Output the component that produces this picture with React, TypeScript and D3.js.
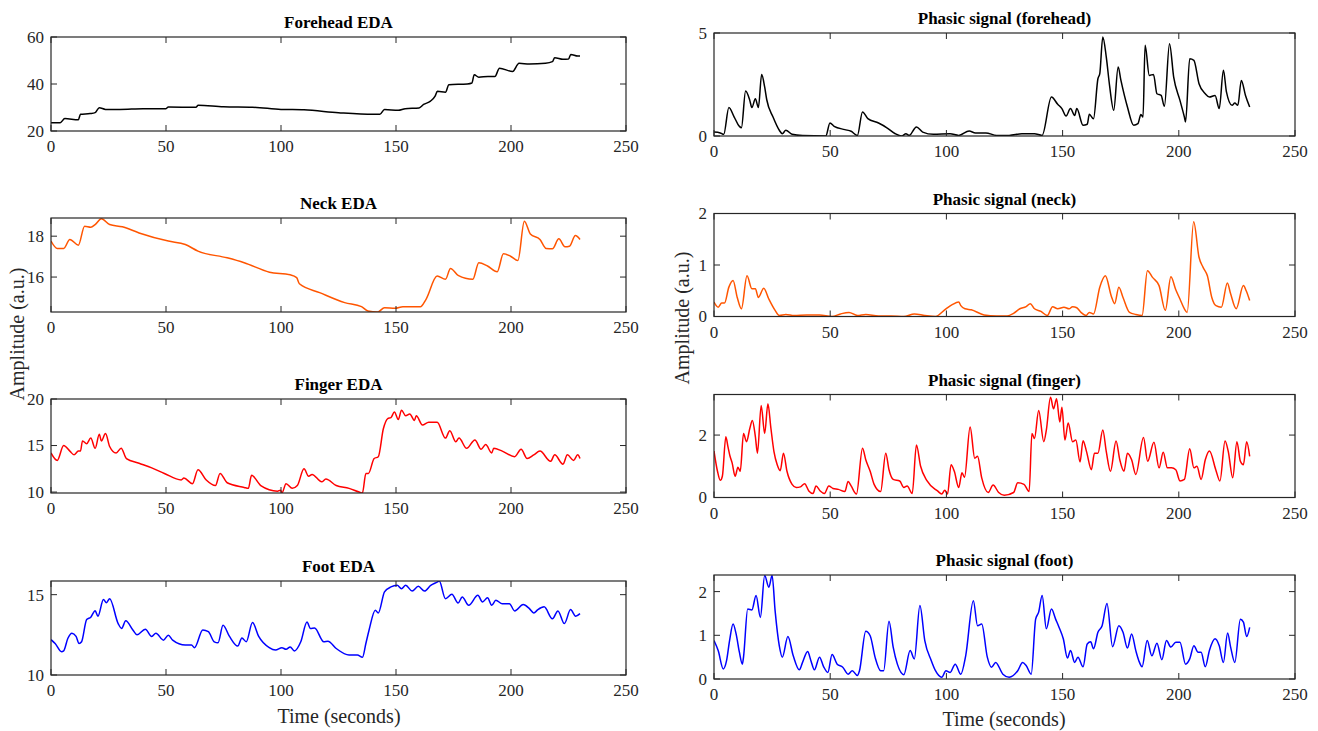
import * as d3 from "d3";

type Pt = [number, number];

const xTicks = [0, 50, 100, 150, 200, 250];

// tonic EDA, left column (time s, value)
const foreheadEda: Pt[] = [
  [0, 23.5], [4, 23.5], [6, 25.3], [11.9, 24.8], [12.8, 27.1], [17, 27.4], [19.2, 27.8], [21, 29.9],
  [23.7, 29.2], [30, 29.2], [40, 29.5], [50, 29.5], [51, 30.2], [63, 30.1], [64, 31], [75, 30.3],
  [87.6, 30.1], [100, 29.2], [110, 29], [125, 27.8], [140, 27.1], [143, 27.1], [145, 29.1], [151, 28.8],
  [154, 29.5], [160, 29.8], [162, 31.3], [165, 32.7], [167, 34.8], [168, 36.9], [171.5, 36.5], [173, 39.7],
  [181, 40], [183, 40.4], [184, 43.9], [186, 42.9], [190, 43.2], [193, 43.2], [195, 46.7], [200.7, 45.3],
  [203.5, 48.8], [208, 48.5], [215, 48.8], [218, 49.5], [219, 51.2], [222.6, 50.5], [225, 50.6],
  [226, 52.6], [229, 51.9], [230, 51.9],
];

const neckEda: Pt[] = [
  [0, 17.76], [2.7, 17.4], [5.5, 17.4], [8.2, 17.84], [11.9, 17.56], [14.6, 18.49], [17.3, 18.44],
  [19.2, 18.57], [21.9, 18.85], [25.5, 18.57], [31, 18.46], [38.3, 18.16], [51, 17.76], [58.4, 17.59],
  [63.9, 17.27], [76.6, 16.94], [84, 16.7], [95, 16.24], [104, 16.11], [106.8, 15.97], [108, 15.67],
  [116.8, 15.24], [127.7, 14.75], [135, 14.55], [137.8, 14.34], [142, 14.29], [145, 14.5], [149.6, 14.47],
  [153, 14.55], [160.6, 14.55], [163, 14.9], [167.9, 16.05], [171.5, 15.89], [173.7, 16.42], [177, 16.08],
  [183.4, 15.89], [186, 16.7], [189.8, 16.54], [194, 16.26], [196.7, 17.14], [199.8, 17.02], [203, 16.81],
  [205.8, 18.73], [208.4, 18.11], [212.6, 17.84], [215.3, 17.4], [218, 17.38], [220.8, 17.87],
  [223.5, 17.48], [225.4, 17.51], [228, 18.03], [230, 17.84],
];

const fingerEda: Pt[] = [
  [0, 14.2], [2.7, 13.4], [5.5, 15], [8.2, 14.4], [10, 14], [11.9, 14.4], [12.8, 14.4], [13.7, 15.5],
  [15.5, 15.2], [17.3, 15.8], [19.2, 14.7], [21, 16.2], [21.9, 15.5], [23.7, 16.3], [25.5, 14.9],
  [28.3, 14.2], [30.5, 14.7], [32.8, 13.6], [38.3, 13.1], [43.8, 12.6], [49.3, 12], [56.6, 11.3],
  [57.8, 11.5], [61.5, 10.9], [63.9, 12.4], [67.5, 11.3], [71.5, 10.7], [73.5, 12], [76.6, 11],
  [84, 10.5], [85.8, 10.4], [87.2, 11.8], [91.2, 10.7], [98.5, 10.1], [99.8, 10.2], [100.4, 9.9],
  [102.2, 10.9], [104.9, 10.4], [107.1, 10.7], [110, 12.5], [112, 11.7], [113.5, 11.9], [117.7, 11.1],
  [119.5, 11.4], [124, 10.7], [129.6, 10.4], [134, 10], [135.4, 9.9], [136.9, 12], [138, 12],
  [140.5, 13.6], [142.3, 13.8], [144.5, 16.8], [146.4, 17.9], [147.8, 18], [149.3, 18.6], [151, 17.8],
  [152.4, 18.8], [154.2, 18.2], [156, 18.4], [158, 17.7], [158.8, 18.2], [161.5, 17.2], [164.2, 17.5],
  [167.9, 17.5], [171.5, 15.8], [173.4, 16.6], [176, 15.4], [177.4, 15.8], [180.7, 14.7], [184.3, 15.6],
  [187, 14.6], [189, 15.1], [191.6, 14.2], [192.5, 14.7], [196.2, 14.4], [201.6, 13.8], [204.4, 14.6],
  [207, 13.6], [209.9, 14], [212.6, 14.4], [217.2, 13.3], [219, 14], [222.6, 13], [224.5, 14],
  [227.2, 13.4], [229, 14], [230, 13.6],
];

const footEda: Pt[] = [
  [0, 12.2], [1.8, 11.96], [4.6, 11.45], [5.5, 11.5], [7.3, 12.27], [9.1, 12.6], [10.9, 12.4],
  [12.2, 11.96], [13.3, 12.07], [15.5, 13.45], [17.3, 13.6], [19.2, 14], [20.4, 13.66], [22.8, 14.7],
  [24.1, 14.5], [25.5, 14.75], [29.2, 13.2], [30.7, 12.9], [32.5, 13.37], [35.6, 12.8], [37.4, 12.5],
  [41, 12.85], [43.8, 12.4], [45.6, 12.6], [48.9, 12.17], [51, 12.48], [52.9, 12.17], [58.4, 11.86],
  [61.1, 11.86], [62.4, 11.7], [66, 12.8], [68.4, 12.7], [71, 12.06], [72.6, 12], [74.8, 13.1],
  [77.6, 12.4], [81.2, 11.8], [83, 12.3], [84.9, 12.07], [87.6, 13.26], [90.3, 12.4], [94.9, 11.7],
  [97.6, 11.55], [100.4, 11.7], [102.2, 11.6], [104, 11.75], [105.8, 11.5], [108.6, 12.07],
  [111.3, 13.3], [112.8, 12.9], [114.6, 12.93], [118.6, 12.07], [120.4, 12.1], [124, 11.65],
  [129.6, 11.24], [133.2, 11.24], [135.4, 11.1], [136.9, 11.96], [138.3, 12.8], [141, 14.03],
  [142.3, 13.86], [145, 15.17], [147.8, 15.48], [150.5, 15.58], [152.4, 15.37], [154.2, 15.58],
  [157, 15.23], [159.7, 15.52], [162.4, 15.23], [165.1, 15.58], [167.9, 15.78], [168.8, 15.85],
  [171.5, 14.75], [174.3, 15.02], [177, 14.48], [178.8, 14.86], [181.6, 14.34], [185.6, 14.96],
  [187.6, 14.55], [189.8, 14.8], [191.6, 14.34], [193.4, 14.65], [196.2, 14.44], [199.3, 14.44],
  [201.6, 13.99], [205.3, 14.38], [208, 14.13], [209.9, 13.86], [211.7, 14.07], [214.4, 14.24],
  [218, 13.5], [220.4, 13.99], [223.2, 13.2], [225.9, 14.07], [228.1, 13.66], [230, 13.82],
];

// phasic components, right column
const foreheadPhasic: Pt[] = [
  [0, 0.19], [2.7, 0.15], [4.2, 0.08], [6.4, 1.38], [8.7, 0.92], [10.9, 0.47], [11.8, 0.4], [13.6, 2.18],
  [15.4, 1.73], [16.3, 1.38], [17.8, 1.81], [19.1, 1.38], [20.5, 2.99], [21.8, 2.38], [22.7, 1.76],
  [25.4, 0.92], [28.1, 0.28], [29.4, 0.11], [30.9, 0.28], [33.6, 0.08], [38.1, 0.02], [48.1, 0],
  [49.9, 0.63], [51.7, 0.47], [56.3, 0.31], [59, 0.23], [61.7, 0.03], [63.9, 1.17], [66.2, 0.84],
  [70.8, 0.63], [74.4, 0.4], [78, 0.11], [80.8, 0], [82.6, 0.11], [84, 0.03], [87.1, 0.44], [89.8, 0.19],
  [94.4, 0.08], [101.6, 0.11], [105.3, 0.03], [109.8, 0.24], [112.5, 0.15], [117, 0.15], [121.6, 0.03],
  [127, 0.03], [132.5, 0.11], [137.9, 0.11], [141.2, 0.03], [145.2, 1.89], [147.9, 1.54], [149.7, 1.33],
  [151.5, 0.97], [153.4, 1.33], [155.2, 1.0], [156.1, 1.33], [158.8, 0.52], [160.6, 0.57], [161.5, 1.05],
  [163.3, 0.84], [165.2, 2.78], [166, 3.03], [167.3, 4.81], [168.8, 3.83], [170.2, 2.46], [172, 1.25],
  [173.9, 3.35], [175.1, 2.7], [177.9, 1.41], [180.6, 0.52], [182.4, 0.6], [183.7, 1.04], [184.6, 0.92],
  [185.5, 4.4], [187.3, 2.94], [189.1, 2.99], [190.6, 2.05], [192.4, 1.97], [193.8, 1.44], [196, 4.48],
  [197.8, 2.86], [200.5, 1.73], [202.4, 0.92], [202.9, 0.68], [204.7, 3.75], [206.5, 3.67], [208.7, 2.54],
  [211.4, 2.05], [213.2, 1.89], [215.6, 1.97], [217.4, 1.33], [219.2, 3.19], [220.5, 2.14], [222.9, 1.49],
  [224.1, 1.6], [225.4, 1.49], [226.9, 2.7], [228.7, 1.97], [230.5, 1.41],
];

const neckPhasic: Pt[] = [
  [0, 0.28], [1.8, 0.18], [3.3, 0.26], [4.5, 0.26], [6.4, 0.57], [8.2, 0.7], [10, 0.37], [11.8, 0.15],
  [14.2, 0.79], [16.3, 0.54], [17.8, 0.54], [19.1, 0.37], [21.4, 0.55], [23.6, 0.34], [26.3, 0.12],
  [28.1, 0.02], [30.9, 0.04], [34.5, 0.02], [39.9, 0.03], [45.4, 0.03], [50.8, 0], [54.4, 0.05],
  [58.1, 0.08], [61.7, 0.02], [65.3, 0.04], [70.8, 0.01], [76.2, 0.01], [81.7, 0], [86.2, 0.05],
  [90.7, 0.02], [95.3, 0], [99.8, 0.15], [102.5, 0.23], [105.3, 0.28], [106.2, 0.21], [108, 0.15],
  [110.7, 0.13], [116.2, 0.03], [121.6, 0.01], [126.1, 0.01], [128.9, 0.06], [131.6, 0.15], [134.3, 0.19],
  [136.1, 0.25], [137.9, 0.15], [140.7, 0.1], [143.4, 0.02], [145.7, 0.19], [147.9, 0.15], [150.6, 0.18],
  [152.8, 0.15], [154.3, 0.19], [156.1, 0.17], [157.9, 0.08], [160.1, 0.02], [161.5, 0.08], [163.3, 0.05],
  [166, 0.57], [168.4, 0.79], [171, 0.39], [172.4, 0.25], [174.2, 0.57], [176, 0.37], [178.8, 0.08],
  [181.5, 0.04], [184.2, 0.02], [186.5, 0.89], [188.7, 0.76], [191.5, 0.6], [194.2, 0.12], [196.6, 0.77],
  [198.7, 0.52], [200.5, 0.34], [202.4, 0.15], [203.6, 0.08], [206.4, 1.84], [208.7, 1.15], [210.5, 0.95],
  [212.3, 0.79], [214.2, 0.37], [216, 0.21], [218.3, 0.18], [220.9, 0.65], [222.3, 0.44], [224.7, 0.15],
  [227.8, 0.6], [229, 0.5], [230.5, 0.31],
];

const fingerPhasic: Pt[] = [
  [0, 1.49], [1.5, 0.84], [2.7, 0.55], [3.6, 0.68], [5.1, 1.95], [6, 1.63], [6.9, 1.32], [7.8, 1.11],
  [9.1, 0.68], [10.3, 0.97], [11.3, 0.84], [12.7, 2.05], [14, 1.79], [15.4, 2.21], [16.5, 2.47],
  [17.8, 1.95], [18.7, 1.42], [20.3, 2.95], [21.8, 2.05], [23.2, 3.0], [24.5, 2.21], [25.8, 1.47],
  [27.2, 1.05], [28.5, 0.86], [29.9, 1.42], [31.4, 0.84], [33.6, 0.42], [35.4, 0.32], [37.2, 0.34],
  [39, 0.44], [40.8, 0.21], [42.6, 0.13], [43.9, 0.37], [45.7, 0.21], [47.5, 0.13], [49.4, 0.37],
  [51.2, 0.29], [53.5, 0.26], [56.3, 0.19], [57.7, 0.51], [59, 0.37], [61.3, 0.11], [63.9, 1.58],
  [65.3, 1.21], [67.2, 0.84], [68.9, 0.42], [71.7, 0.19], [73.9, 1.42], [75.3, 0.89], [77.1, 0.58],
  [79.9, 0.53], [81.7, 0.32], [83.1, 0.37], [85.3, 0.13], [87.1, 1.68], [88.9, 1.0], [91.7, 0.53],
  [96.2, 0.21], [98, 0.11], [99.3, 0.23], [100.5, 0.11], [102, 1.05], [103.4, 0.84], [105.3, 0.32],
  [106.7, 0.79], [107.8, 0.65], [110.2, 2.26], [112.2, 1.26], [113.4, 1.32], [115.2, 0.63], [118, 0.16],
  [120.1, 0.4], [122.5, 0.16], [124.9, 0.07], [128.9, 0.16], [130.7, 0.47], [133.4, 0.42], [135.6, 0.19],
  [136.8, 2.05], [137.9, 1.89], [139.7, 2.79], [141.9, 1.79], [143, 2.16], [144.8, 3.21], [146.1, 2.84],
  [147.4, 3.16], [148.8, 2.42], [149.7, 2.89], [151, 1.84], [152.4, 2.39], [154.3, 1.79], [155.7, 1.84],
  [157.5, 1.14], [158.8, 1.82], [160.3, 1.47], [162.4, 0.89], [163.7, 1.42], [165.2, 1.42], [167.3, 2.16],
  [168.8, 1.47], [170.6, 0.84], [173, 1.81], [174.6, 1.21], [176.4, 0.84], [177.9, 1.42], [179.7, 1.21],
  [181.5, 0.74], [184.8, 1.92], [186.6, 1.16], [189.3, 1.77], [191.5, 0.95], [193.3, 1.45], [195.1, 0.95],
  [196.9, 0.95], [198.7, 0.89], [200.5, 0.53], [202.4, 0.58], [204.7, 1.56], [206.5, 0.95], [207.8, 1.0],
  [209.6, 0.58], [211.4, 1.21], [213.2, 1.49], [215.9, 0.89], [217.7, 0.53], [219.9, 1.81], [221.3, 1.47],
  [223.2, 0.63], [225, 1.79], [226.5, 1.16], [227.8, 1.05], [229.2, 1.79], [230.5, 1.32],
];

const footPhasic: Pt[] = [
  [0, 0.88], [1.8, 0.65], [4, 0.23], [5.4, 0.42], [6.7, 0.88], [8.2, 1.26], [9.6, 1.01], [10.9, 0.62],
  [12.2, 0.34], [12.7, 0.5], [14.5, 1.6], [16.3, 1.58], [18.1, 1.91], [19.96, 1.41], [21.8, 2.37],
  [23.6, 2.1], [25, 2.37], [26.3, 1.56], [28.1, 0.76], [29.4, 0.5], [31.8, 0.97], [34.1, 0.53],
  [36.7, 0.21], [38.1, 0.38], [40.3, 0.63], [41.7, 0.42], [43.2, 0.21], [45.4, 0.5], [47.2, 0.28],
  [49, 0.15], [50.8, 0.56], [53, 0.34], [55.4, 0.27], [57.7, 0.11], [59.5, 0.19], [61.7, 0.08],
  [62.6, 0.19], [65.3, 1.09], [67.2, 0.99], [69.3, 0.5], [71.7, 0.19], [73, 0.19], [75.3, 1.32],
  [77.1, 0.73], [78.9, 0.34], [81.7, 0.1], [84.4, 0.65], [86.2, 0.46], [88.6, 1.68], [90.7, 0.88],
  [93.5, 0.42], [95.3, 0.19], [98, 0.04], [99.8, 0.19], [101.6, 0.15], [103.8, 0.34], [106.2, 0.11],
  [108.3, 0.53], [111.6, 1.79], [113.4, 1.22], [115.2, 1.26], [117.6, 0.5], [119.4, 0.27], [121.2, 0.38],
  [124.3, 0.11], [127, 0.04], [130.7, 0.19], [132.8, 0.38], [134.3, 0.31], [136.5, 0.11], [138.4, 1.37],
  [139.7, 1.53], [141.2, 1.91], [143, 1.15], [145.2, 1.6], [147, 1.37], [148.5, 1.18], [150.3, 0.92],
  [152.1, 0.48], [153.4, 0.65], [155.2, 0.38], [156.6, 0.5], [158.8, 0.28], [160.6, 0.8], [162.1, 0.85],
  [163.3, 0.69], [165.2, 1.07], [167, 1.22], [169.1, 1.73], [171.5, 0.74], [174.2, 1.22], [176, 1.07],
  [177.9, 0.71], [179.7, 1.03], [181.5, 0.65], [182.8, 0.42], [184.2, 0.28], [186.4, 0.88], [188.4, 0.53],
  [190.6, 0.82], [192.7, 0.44], [194.7, 0.88], [196.6, 0.73], [198.7, 0.84], [200.5, 0.84], [202.9, 0.34],
  [204.7, 0.46], [206.5, 0.76], [208.3, 0.61], [209.6, 0.61], [211.4, 0.28], [213.2, 0.66], [215.6, 0.92],
  [217.4, 0.76], [219.2, 0.38], [221, 1.05], [222.3, 0.73], [224.1, 0.38], [226.5, 1.37], [227.8, 1.3],
  [229.2, 0.97], [230.5, 1.18],
];

const BLACK = "#000000";
const ORANGE = "#ff5500";
const RED = "#ff0000";
const BLUE = "#0000ff";
const AXIS = "#262626";
const FONT = "'Liberation Serif', 'Times New Roman', serif";

// left column: x 51..626, right column: x 714..1295
const panels = [
  { title: "Forehead EDA", data: foreheadEda, color: BLACK, yDomain: [20, 60], yTicks: [20, 40, 60], x0: 51, x1: 626, top: 37, bottom: 131 },
  { title: "Neck EDA", data: neckEda, color: ORANGE, yDomain: [14.29, 18.89], yTicks: [16, 18], x0: 51, x1: 626, top: 218, bottom: 312 },
  { title: "Finger EDA", data: fingerEda, color: RED, yDomain: [9.9, 20], yTicks: [10, 15, 20], x0: 51, x1: 626, top: 399, bottom: 493 },
  { title: "Foot EDA", data: footEda, color: BLUE, yDomain: [10, 15.85], yTicks: [10, 15], x0: 51, x1: 626, top: 581, bottom: 675 },
  { title: "Phasic signal (forehead)", data: foreheadPhasic, color: BLACK, yDomain: [0, 5], yTicks: [0, 5], x0: 714, x1: 1295, top: 33, bottom: 136 },
  { title: "Phasic signal (neck)", data: neckPhasic, color: ORANGE, yDomain: [0, 2], yTicks: [0, 1, 2], x0: 714, x1: 1295, top: 213.5, bottom: 316.5 },
  { title: "Phasic signal (finger)", data: fingerPhasic, color: RED, yDomain: [0, 3.3], yTicks: [0, 2], x0: 714, x1: 1295, top: 394.5, bottom: 497.5 },
  { title: "Phasic signal (foot)", data: footPhasic, color: BLUE, yDomain: [0, 2.38], yTicks: [0, 1, 2], x0: 714, x1: 1295, top: 575, bottom: 679 },
];

type PanelProps = (typeof panels)[number] & { idx: number };

function Panel(p: PanelProps) {
  const x = d3.scaleLinear().domain([0, 250]).range([p.x0, p.x1]);
  const y = d3.scaleLinear().domain(p.yDomain).range([p.bottom, p.top]);
  const line = d3
    .line<Pt>()
    .x((d) => x(d[0]))
    .y((d) => y(d[1]))
    .curve(d3.curveMonotoneX);
  const tl = 6;
  const clipId = `clip${p.idx}`;
  return (
    <g>
      <clipPath id={clipId}>
        <rect x={p.x0} y={p.top} width={p.x1 - p.x0} height={p.bottom - p.top} />
      </clipPath>
      <path d={line(p.data) ?? ""} fill="none" stroke={p.color} strokeWidth={1.5} clipPath={`url(#${clipId})`} />
      <rect x={p.x0} y={p.top} width={p.x1 - p.x0} height={p.bottom - p.top} fill="none" stroke={AXIS} strokeWidth={1.2} />
      {xTicks.map((t) => (
        <g key={`x${t}`}>
          <line x1={x(t)} x2={x(t)} y1={p.bottom} y2={p.bottom - tl} stroke={AXIS} />
          <line x1={x(t)} x2={x(t)} y1={p.top} y2={p.top + tl} stroke={AXIS} />
          <text x={x(t)} y={p.bottom + 21} textAnchor="middle" fontSize={17} fill={AXIS} fontFamily={FONT}>
            {t}
          </text>
        </g>
      ))}
      {p.yTicks.map((t) => (
        <g key={`y${t}`}>
          <line x1={p.x0} x2={p.x0 + tl} y1={y(t)} y2={y(t)} stroke={AXIS} />
          <line x1={p.x1} x2={p.x1 - tl} y1={y(t)} y2={y(t)} stroke={AXIS} />
          <text x={p.x0 - 7} y={y(t)} dy="0.35em" textAnchor="end" fontSize={17} fill={AXIS} fontFamily={FONT}>
            {t}
          </text>
        </g>
      ))}
      <text x={(p.x0 + p.x1) / 2} y={p.top - 9} textAnchor="middle" fontSize={17} fontWeight="bold" fill="#000" fontFamily={FONT}>
        {p.title}
      </text>
    </g>
  );
}

export default function App() {
  return (
    <svg width={1318} height={731} style={{ position: "absolute", left: 0, top: 0, background: "#fff" }}>
      {panels.map((p, i) => (
        <Panel key={p.title} {...p} idx={i} />
      ))}
      <text transform="translate(24,334) rotate(-90)" textAnchor="middle" fontSize={20} fill={AXIS} fontFamily={FONT}>
        Amplitude (a.u.)
      </text>
      <text transform="translate(689,318) rotate(-90)" textAnchor="middle" fontSize={20} fill={AXIS} fontFamily={FONT}>
        Amplitude (a.u.)
      </text>
      <text x={339} y={723} textAnchor="middle" fontSize={20} fill={AXIS} fontFamily={FONT}>
        Time (seconds)
      </text>
      <text x={1004} y={726} textAnchor="middle" fontSize={20} fill={AXIS} fontFamily={FONT}>
        Time (seconds)
      </text>
    </svg>
  );
}
